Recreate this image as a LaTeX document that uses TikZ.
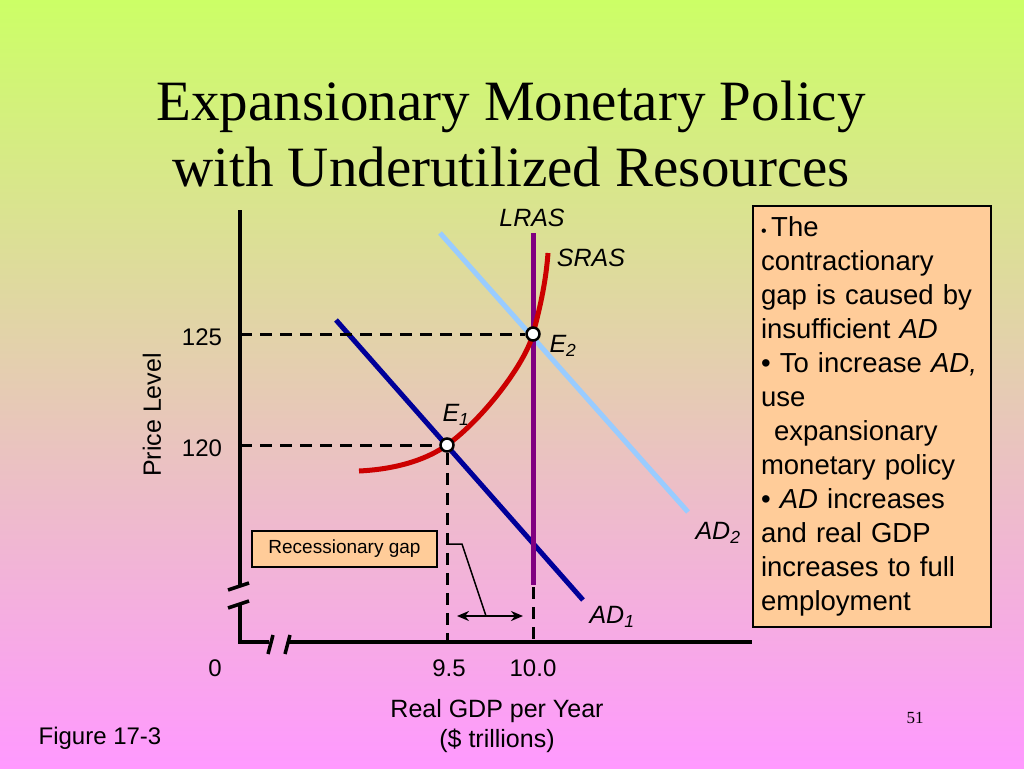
\documentclass[tikz,border=0pt]{standalone}
\usepackage{fontspec}
\setmainfont{Liberation Serif}
\setsansfont{Liberation Sans}
\usetikzlibrary{positioning, arrows.meta}

\definecolor{limebg}{HTML}{CCFF66}
\definecolor{midbg}{HTML}{E3D3B8}
\definecolor{pinkbg}{HTML}{FF99FF}
\definecolor{peach}{HTML}{FFCC99}
\definecolor{adone}{HTML}{000099}
\definecolor{adtwo}{HTML}{99CCFF}
\definecolor{lrascol}{HTML}{800080}
\definecolor{srascol}{HTML}{CC0000}

\tikzset{
  axisline/.style={line width=4pt, black},
  guide/.style={line width=3pt, black, dash pattern=on 12pt off 8pt},
  curve/.style={line width=5pt},
  eqpoint/.style={circle, draw=black, fill=white, line width=2.5pt, inner sep=0pt, minimum size=13pt},
  lbl/.style={font=\sffamily\fontsize{24}{28}\selectfont, inner sep=0pt},
  curvelbl/.style={font=\sffamily\itshape\fontsize{25}{29}\selectfont, inner sep=0pt},
  title/.style={font=\fontsize{57}{66}\selectfont, align=center, inner sep=0pt},
  gapbox/.style={draw=black, line width=1.5pt, fill=peach, font=\sffamily\fontsize{19}{22}\selectfont,
    minimum width=185pt, minimum height=36pt, inner sep=0pt},
  infobox/.style={draw=black, line width=2pt, fill=peach, align=left, text width=222pt,
    font=\sffamily\fontsize{27.5}{34}\selectfont, inner xsep=8pt, minimum height=421pt}
}

\begin{document}
\begin{tikzpicture}[x=1pt, y=-1pt]
    % background
    \shade[top color=limebg, middle color=midbg, bottom color=pinkbg] (0,0) rectangle (1024,768);
    \useasboundingbox (0,0) rectangle (1024,768);

    % title
    \node[title] (title) at (511,134) {Expansionary Monetary Policy\\with Underutilized Resources};

    % axes with breaks
    \coordinate (ytop) at (240,210);
    \coordinate (origin) at (240,642);
    \coordinate (xend) at (752,642);
    \draw[axisline] (ytop) -- (240,585);
    \draw[axisline] (240,605) -- (origin) -- (269,642);
    \draw[axisline] (288,642) -- (xend);
    \draw[axisline, line width=3.5pt] (228,590) -- (249,583);
    \draw[axisline, line width=3.5pt] (228,608) -- (249,601);
    \draw[axisline, line width=3.5pt] (268,654) -- (273,635);
    \draw[axisline, line width=3.5pt] (285,654) -- (290,635);

    % equilibrium points
    \coordinate (e1pos) at (447,445);
    \coordinate (e2pos) at (533,334);

    % curves
    \draw[curve, adtwo] (440,233) -- (688,512);
    \draw[curve, adone] (336,320) -- (583,600);
    \draw[curve, lrascol] (533,233) -- (533,585);
    \draw[curve, srascol] (359,471) .. controls (400,469) and (429,458) .. (e1pos)
        .. controls (483,419) and (525,364) .. (e2pos)
        .. controls (541,304) and (546,280) .. (548,253);

    \node[eqpoint] (E1) at (e1pos) {};
    \node[eqpoint] (E2) at (e2pos) {};

    % dashed guides
    \draw[guide] (240,334) -- (E2);
    \draw[guide] (240,445) -- (E1);
    \draw[guide] (E1) -- (E1 |- origin);
    \draw[guide] (533,587) -- (533,642);

    % curve labels
    \node[curvelbl] (lraslbl) at (532,218) {LRAS};
    \node[curvelbl] (sraslbl) at (591,258) {SRAS};
    \node[curvelbl] (e2lbl) at (563,346) {E\textsubscript{2}};
    \node[curvelbl] (e1lbl) at (456,415) {E\textsubscript{1}};
    \node[curvelbl] (ad2lbl) at (718,533) {AD\textsubscript{2}};
    \node[curvelbl] (ad1lbl) at (612,617) {AD\textsubscript{1}};

    % axis labels
    \node[lbl] (p125) at (202,337) {125};
    \node[lbl] (p120) at (202,448) {120};
    \node[lbl] (zero) at (215,668) {0};
    \node[lbl] (q95) at (449,668) {9.5};
    \node[lbl] (q100) at (533,668) {10.0};
    \node[lbl, rotate=90, font=\sffamily\fontsize{25}{28}\selectfont] (ylbl) at (152,415) {Price Level};
    \node[lbl, align=center, font=\sffamily\fontsize{25}{30}\selectfont] (xlbl) at (497,726) {Real GDP per Year\\(\$ trillions)};
    \node[lbl] (fig) at (100,738) {Figure 17-3};
    \node[inner sep=0pt, font=\fontsize{17}{20}\selectfont] (pagenum) at (915,718) {51};

    % recessionary gap
    \node[gapbox] (gap) at (344.5,549) {Recessionary gap};
    \coordinate (gapL) at (457,616);
    \coordinate (gapR) at (523,616);
    \draw[line width=2pt, {Stealth[length=12pt,width=10pt]}-{Stealth[length=12pt,width=10pt]}] (gapL) -- (gapR);
    \coordinate (ptrA) at (447,544);
    \coordinate (ptrB) at (462,544);
    \draw[line width=1.5pt] (ptrA) -- (ptrB) -- (486,616);

    % explanation box
    \node[infobox, anchor=north west] (note) at (752,205) {%
      {\fontsize{16}{16}\selectfont•}\,The\\
      contractionary\\
      gap is caused by\\
      insufficient \textit{AD}\\
      • To increase \textit{AD,}\\
      use\\
      \hspace*{13pt}expansionary\\
      monetary policy\\
      • \textit{AD} increases\\
      and real GDP\\
      increases to full\\
      employment};
\end{tikzpicture}
\end{document}
